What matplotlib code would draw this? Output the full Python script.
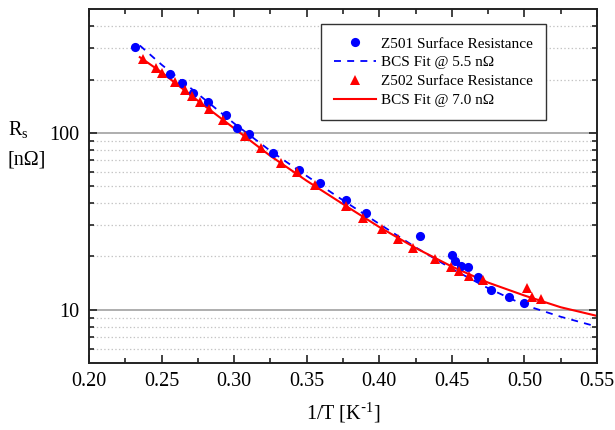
import matplotlib
matplotlib.use("Agg")
import matplotlib.pyplot as plt
from matplotlib.ticker import FixedLocator, NullFormatter, MultipleLocator

plt.rcParams["font.family"] = ["Liberation Serif", "DejaVu Serif"]
plt.rcParams["mathtext.default"] = "regular"
plt.rcParams["lines.scale_dashes"] = False

# Z501 measured surface resistance (1/T in 1/K, Rs in nOhm)
z501_x = [0.2317, 0.2559, 0.2640, 0.2720, 0.2819, 0.2945, 0.3020, 0.3100,
          0.3267, 0.3450, 0.3593, 0.3768, 0.3906, 0.4283, 0.4499, 0.4520,
          0.4566, 0.4612, 0.4683, 0.4768, 0.4892, 0.4998]
z501_rs = [304, 216, 192, 168, 149, 126, 107, 98.4,
           77.3, 61.6, 51.9, 41.4, 35.1, 26.1, 20.4, 18.9,
           17.7, 17.4, 15.3, 12.9, 11.8, 10.9]

# Z502 measured surface resistance
z502_x = [0.2375, 0.2460, 0.2501, 0.2593, 0.2662, 0.2708, 0.2766, 0.2828,
          0.2926, 0.3078, 0.3188, 0.3326, 0.3432, 0.3554, 0.3768, 0.3887,
          0.4021, 0.4126, 0.4234, 0.4382, 0.4492, 0.4552, 0.4616, 0.4715,
          0.5019, 0.5053, 0.5117]
z502_rs = [261, 234, 218, 194, 174, 162, 149, 137,
           118, 95.3, 82.3, 67.6, 60.1, 50.6, 38.6, 33.1,
           28.5, 25.1, 22.3, 19.4, 17.4, 16.5, 15.5, 14.6,
           13.3, 11.7, 11.4]

# BCS fit curves
fit_x = [0.235, 0.25, 0.275, 0.30, 0.325, 0.35, 0.375, 0.40,
         0.425, 0.45, 0.475, 0.50, 0.525, 0.55]
fit501_rs = [312, 243, 166, 113, 79, 57, 41.5, 30.5,
             22.5, 17.0, 13.2, 10.6, 9.1, 8.0]
fit502_rs = [268, 220, 152, 106, 74, 53.5, 39.5, 29.3,
             22.3, 17.5, 14.2, 12.0, 10.3, 9.2]

x_ticks = [0.20, 0.25, 0.30, 0.35, 0.40, 0.45, 0.50, 0.55]
y_major = [10, 100]
y_minor = [6, 7, 8, 9, 20, 30, 40, 50, 60, 70, 80, 90, 200, 300, 400]

fig = plt.figure(figsize=(6.15, 4.3), dpi=100)
ax = fig.add_axes([0.1447, 0.1565, 0.826, 0.8219])

ax.set_yscale("log")
ax.set_xlim(0.20, 0.55)
ax.set_ylim(5, 500)

ax.plot(z501_x, z501_rs, "o", color="#0000ff", markersize=6.6,
        markeredgewidth=0, label="Z501 Surface Resistance", zorder=3)
ax.plot(fit_x, fit501_rs, color="#0000ff", linewidth=1.3, linestyle="--",
        dashes=(5, 4.5), label="BCS Fit @ 5.5 nΩ", zorder=2)
ax.plot(z502_x, z502_rs, "^", color="#ff0000", markersize=7,
        markeredgewidth=0, label="Z502 Surface Resistance", zorder=4)
ax.plot(fit_x, fit502_rs, color="#ff0000", linewidth=1.5,
        label="BCS Fit @ 7.0 nΩ", zorder=2)

# ticks
ax.xaxis.set_major_locator(FixedLocator(x_ticks))
ax.xaxis.set_minor_locator(MultipleLocator(0.025))
ax.set_xticklabels(["%.2f" % t for t in x_ticks])
ax.yaxis.set_major_locator(FixedLocator(y_major))
ax.yaxis.set_minor_locator(FixedLocator(y_minor))
ax.set_yticklabels(["10", "100"])
ax.yaxis.set_minor_formatter(NullFormatter())
ax.tick_params(which="both", direction="in", top=True, right=True,
               labelsize=14.5, width=1.2, colors="#222222")
ax.tick_params(which="major", length=6, pad=7)
ax.tick_params(which="minor", length=3.5)
for lab in ax.get_xticklabels() + ax.get_yticklabels():
    lab.set_color("black")

# grid
ax.grid(True, which="major", axis="y", color="#a8a8a8", linewidth=1.3, linestyle="-")
ax.grid(True, which="minor", axis="y", color="#c4c4c4", linewidth=0.9, linestyle=":")
ax.set_axisbelow(True)

for sp in ax.spines.values():
    sp.set_linewidth(1.4)
    sp.set_color("#222222")

ax.set_xlabel("1/T [K$^{\\text{-}1}$]", fontsize=14.5, labelpad=7)
fig.text(0.013, 0.70, "R$_s$", fontsize=14.5, ha="left", va="center")
fig.text(0.013, 0.628, "[nΩ]", fontsize=14.5, ha="left", va="center")

leg = ax.legend(loc="upper right", bbox_to_anchor=(0.8996, 0.958),
                fontsize=11, frameon=True, fancybox=False,
                framealpha=1, edgecolor="#333333", handlelength=2.75,
                handletextpad=0.35, labelspacing=0.34, borderpad=0.83,
                borderaxespad=0)
leg.get_frame().set_linewidth(1.0)

fig.savefig("out.png", dpi=100)
